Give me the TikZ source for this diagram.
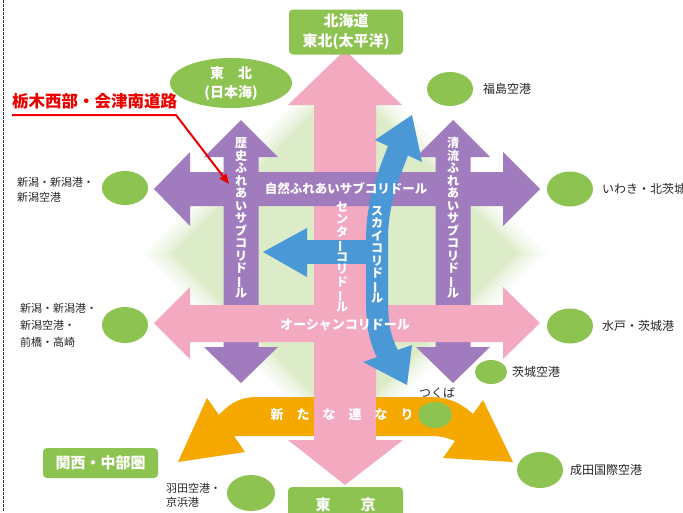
\documentclass[tikz,border=0pt]{standalone}
\usepackage{fontspec}
\setmainfont{Noto Sans CJK JP}
\usetikzlibrary{shapes.geometric,arrows.meta}
\definecolor{pk}{RGB}{243,170,192}
\definecolor{pu}{RGB}{160,124,190}
\definecolor{bl}{RGB}{74,152,214}
\definecolor{orA}{RGB}{245,168,0}
\definecolor{gr}{RGB}{141,195,80}
\definecolor{lg}{RGB}{220,236,201}
\definecolor{rd}{RGB}{235,0,0}
\newcommand{\choon}{\rotatebox[origin=c]{90}{ー}}
\begin{document}
\begin{tikzpicture}[x=1pt,y=-1pt,
  gbox/.style={fill=gr, rounded corners=4pt, text=white, font=\bfseries\fontsize{15}{20}\selectfont, align=center, inner sep=0pt},
  gell/.style={ellipse, fill=gr, inner sep=0pt},
  blab/.style={font=\fontsize{11}{15}\selectfont, align=left, anchor=west, inner sep=0pt, text=black!85},
  rlab/.style={font=\fontsize{12}{14}\selectfont, anchor=west, inner sep=0pt, text=black!85},
  wtext/.style={text=white, font=\bfseries\fontsize{12.5}{13}\selectfont, inner sep=0pt},
  vtext/.style={text=white, font=\bfseries\fontsize{12}{12.5}\selectfont, align=center, inner sep=0pt}]
\useasboundingbox (0,0) rectangle (683,512);
\fill[white] (0,0) rectangle (683,512);
\draw[black!80, line width=1pt, dash pattern=on 2.5pt off 1.5pt] (3,0) -- (3,512);
% soft green diamond (several layers imitate the blurred edge)
\foreach \d/\c in {28/18,22/30,16/45,10/62,5/80,0/100}{
  \fill[lg!\c] (345,80-\d) -- (518+\d,253) -- (345,426+\d) -- (172-\d,253) -- cycle;
}
% orange arrow
\fill[orA] (178,462) -- (207,398) -- (219,415) .. controls (230,403) and (240,397) .. (258,397) -- (430,397) .. controls (450,397) and (462,404) .. (473,414) -- (483,400) -- (513,462) -- (443,458) -- (455,441) .. controls (445,437) and (440,436) .. (430,436) -- (258,436) .. controls (248,436) and (240,436) .. (234,436) -- (245,452) -- cycle;
% pink vertical
\fill[pk] (345,50) -- (402,105) -- (376,105) -- (376,440) -- (403,440) -- (345,485) -- (288,440) -- (314,440) -- (314,105) -- (288,105) -- cycle;
% purple horizontal
\fill[pu] (154,189) -- (190,152) -- (190,172) -- (503,172) -- (503,152) -- (540,189) -- (503,226) -- (503,206) -- (190,206) -- (190,226) -- cycle;
% purple verticals
\fill[pu] (241,120) -- (278,157) -- (258.5,157) -- (258.5,347) -- (278,347) -- (241,383) -- (204,347) -- (223.5,347) -- (223.5,157) -- (204,157) -- cycle;
\fill[pu] (453,120) -- (490,157) -- (470.5,157) -- (470.5,347) -- (490,347) -- (453,383) -- (416,347) -- (435.5,347) -- (435.5,157) -- (416,157) -- cycle;
% pink horizontal
\fill[pk] (154,323) -- (190,287) -- (190,305) -- (503,305) -- (503,287) -- (540,323) -- (503,359) -- (503,342) -- (190,342) -- (190,359) -- cycle;
% blue
\draw[bl, line width=22pt] (399,148) .. controls (390,172) and (377,200) .. (377,240) -- (377,300) .. controls (377,325) and (380,340) .. (389,357);
\fill[bl] (412,115) -- (422,162) -- (375,140) -- cycle;
\fill[bl] (407,385) -- (363,362) -- (412,345) -- cycle;
\fill[bl] (300,240) rectangle (378,264);
\fill[bl] (263,252) -- (307,228) -- (307,277) -- cycle;
% texts on arrows
\node[wtext] (t1) at (346,189) {自然ふれあいサブコリドール};
\node[wtext, font=\bfseries\fontsize{13}{13}\selectfont] (t2) at (345,325) {オーシャンコリドール};
\node[vtext] (t3) at (241,218) {歴\\史\\ふ\\れ\\あ\\い\\サ\\ブ\\コ\\リ\\ド\\\choon\\ル};
\node[vtext] (t4) at (453,218) {清\\流\\ふ\\れ\\あ\\い\\サ\\ブ\\コ\\リ\\ド\\\choon\\ル};
\node[vtext] (t5) at (342,257) {セ\\ン\\タ\\\choon\\コ\\リ\\ド\\\choon\\ル};
\node[vtext] (t6) at (377,255) {ス\\カ\\イ\\コ\\リ\\ド\\\choon\\ル};
\node[wtext, font=\bfseries\fontsize{13}{13}\selectfont] (t7) at (342,415) {新　た　な　連　な　り};
% boxes
\node[gbox, minimum width=114, minimum height=45] (hk) at (346,32) {北海道\\東北(太平洋)};
\node[gell, minimum width=122, minimum height=50, text=white, font=\bfseries\fontsize{14}{19}\selectfont, align=center] (tn) at (231,83) {東　北\\(日本海)};
\node[gbox, minimum width=115, minimum height=30] (kc) at (100.5,463) {関西・中部圏};
\node[gbox, minimum width=115, minimum height=36] (tk) at (345.5,505) {東　　京};
% ellipses
\node[gell, minimum width=46, minimum height=34] (e1) at (125,188) {};
\node[gell, minimum width=46, minimum height=36] (e2) at (125,325) {};
\node[gell, minimum width=46, minimum height=34] (e3) at (450,89) {};
\node[gell, minimum width=46, minimum height=35] (e4) at (570,189) {};
\node[gell, minimum width=46, minimum height=35] (e5) at (570,326) {};
\node[gell, minimum width=32, minimum height=24] (e6) at (491,372) {};
\node[gell, minimum width=34, minimum height=26] (e7) at (435,415) {};
\node[gell, minimum width=46, minimum height=36] (e8) at (540,470) {};
\node[gell, minimum width=48, minimum height=36] (e9) at (251,493) {};
% labels
\node[blab] (l1) at (17,190) {新潟・新潟港・\\新潟空港};
\node[blab, font=\fontsize{11}{17}\selectfont] (l2) at (20,325) {新潟・新潟港・\\新潟空港・\\前橋・高崎};
\node[blab, font=\fontsize{11}{14}\selectfont] (l3) at (166,495) {羽田空港・\\京浜港};
\node[rlab] (r1) at (483,89) {福島空港};
\node[rlab] (r2) at (602,189) {いわき・北茨城};
\node[rlab] (r3) at (602,326) {水戸・茨城港};
\node[rlab] (r4) at (512,372) {茨城空港};
\node[rlab, anchor=center] (r5) at (437,393) {つくば};
\node[rlab] (r6) at (570,470) {成田国際空港};
% red annotation
\node[font=\bfseries\fontsize{16.5}{18}\selectfont, text=rd, anchor=west, inner sep=0pt] (red) at (12,101) {栃木西部・会津南道路};
\coordinate (rc1) at (12,115);
\coordinate (rc2) at (176,115);
\coordinate (rtip) at (229,184);
\draw[rd, line width=2pt, -{Triangle[length=10pt,width=8pt]}] (rc1) -- (rc2) -- (rtip);
\end{tikzpicture}
\end{document}
